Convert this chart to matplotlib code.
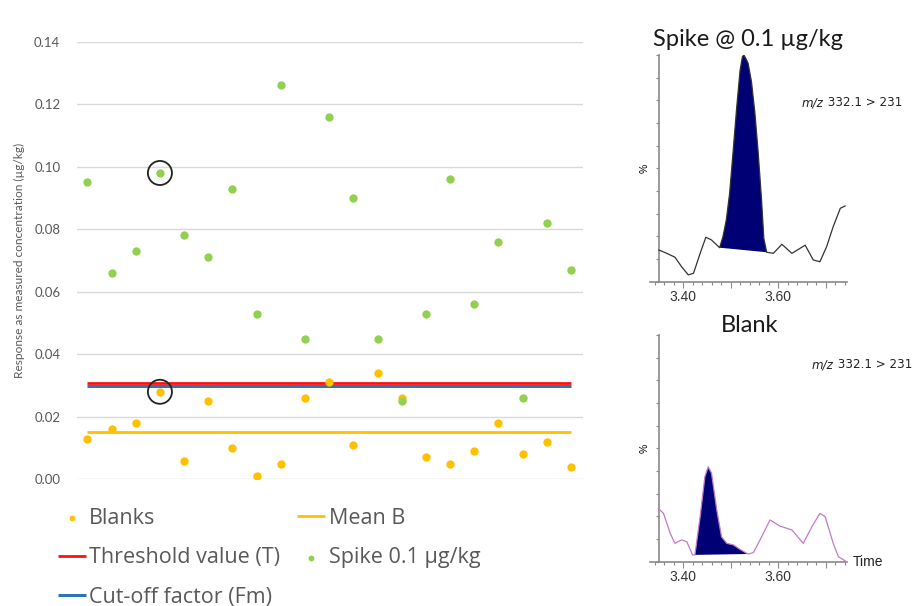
import numpy as np
import matplotlib
matplotlib.use("Agg")
import matplotlib.pyplot as plt
from matplotlib.ticker import MultipleLocator

plt.rcParams["font.family"] = ["Lato", "DejaVu Sans"]

# --- scatter data
sample_no = list(range(1, 22))
blanks = [0.013, 0.016, 0.018, 0.028, 0.006, 0.025, 0.010, 0.001, 0.005, 0.026, 0.031,
          0.011, 0.034, 0.026, 0.007, 0.005, 0.009, 0.018, 0.008, 0.012, 0.004]
spike = [0.095, 0.066, 0.073, 0.098, 0.078, 0.071, 0.093, 0.053, 0.126, 0.045, 0.116,
         0.090, 0.045, 0.025, 0.053, 0.096, 0.056, 0.076, 0.026, 0.082, 0.067]
mean_b = 0.015
threshold_t = 0.0307
cutoff_fm = 0.0300
circled = 3  # index of the circled sample

# --- chromatograms
spike_time = [3.349, 3.366, 3.383, 3.397, 3.411, 3.422, 3.436, 3.448, 3.460, 3.477,
              3.484, 3.491, 3.498, 3.505, 3.513, 3.520, 3.525, 3.528, 3.532, 3.537,
              3.544, 3.551, 3.558, 3.565, 3.570, 3.576,
              3.590, 3.608, 3.629, 3.657, 3.674, 3.688, 3.702, 3.716, 3.731, 3.741]
spike_pct = [14.0, 12.5, 10.8, 6.6, 3.0, 3.7, 12.5, 19.6, 18.4, 15.0,
             19.9, 27.2, 38.9, 56.5, 77.1, 93.2, 99.3, 100.0, 98.5, 96.3,
             88.2, 74.9, 57.3, 36.7, 19.1, 13.0,
             12.5, 16.5, 12.5, 16.1, 9.6, 8.8, 15.4, 24.3, 32.4, 33.4]
spike_peak = (3.477, 3.576)

blank_time = [3.348, 3.359, 3.373, 3.383, 3.397, 3.408, 3.420, 3.425, 3.436, 3.446,
              3.453, 3.460, 3.471, 3.481, 3.492, 3.506, 3.520, 3.534, 3.537, 3.548,
              3.562, 3.583, 3.604, 3.629, 3.653, 3.671, 3.688, 3.699, 3.716, 3.727, 3.741]
blank_pct = [23.5, 21.3, 12.5, 8.1, 9.6, 8.8, 3.0, 3.0, 19.9, 37.5,
             41.9, 39.0, 22.8, 11.0, 8.1, 7.4, 5.4, 3.7, 3.4, 4.0,
             9.6, 18.4, 15.7, 14.0, 8.1, 15.4, 21.3, 19.9, 8.1, 2.2, 0.4]
blank_peak = (3.425, 3.537)

ORANGE = "#FFC000"
GREEN = "#92D050"
RED = "#FF1010"
BLUE = "#2E75B6"
GREY_TXT = "#595959"
NAVY = "#000075"
ARIAL = ["Liberation Sans", "DejaVu Sans"]

W, H = 915, 606
fig = plt.figure(figsize=(W / 100, H / 100), dpi=100)


def px_axes(x0, y0, x1, y1):
    # axes from pixel box (top-left origin)
    return fig.add_axes([x0 / W, 1 - y1 / H, (x1 - x0) / W, (y1 - y0) / H])


# --- main scatter chart
ax = px_axes(77, 41.7, 583, 479.3)
ax.set_xlim(0.57, 21.5)
ax.set_ylim(0, 0.14)
ax.set_yticks(np.arange(0, 0.141, 0.02))
ax.yaxis.set_major_formatter(lambda v, _: f"{v:.2f}")
ax.set_xticks([])
ax.tick_params(axis="y", length=0, pad=12, labelsize=9.5, labelcolor=GREY_TXT)
ax.grid(axis="y", color="#d9d9d9", lw=1)
ax.set_axisbelow(True)
for s in ax.spines.values():
    s.set_visible(False)
ax.set_ylabel("Response as measured concentration (µg/kg)", fontsize=8.6, color=GREY_TXT)
ax.yaxis.set_label_coords(-0.103, 0.5)

h_mean = ax.hlines(mean_b, sample_no[0], sample_no[-1], color=ORANGE, lw=2, label="Mean B")
h_cut = ax.hlines(cutoff_fm, sample_no[0], sample_no[-1], color=BLUE, lw=2.2,
                  label="Cut-off factor (Fm)")
h_thr = ax.hlines(threshold_t, sample_no[0], sample_no[-1], color=RED, lw=2,
                  label="Threshold value (T)")
h_bl = ax.scatter(sample_no, blanks, s=36, color=ORANGE, lw=0, zorder=3, label="Blanks")
h_sp = ax.scatter(sample_no, spike, s=36, color=GREEN, lw=0, zorder=4,
                  label="Spike 0.1 µg/kg")
ax.scatter([sample_no[circled]] * 2, [spike[circled], blanks[circled]], s=300,
           facecolors="none", edgecolors="#222222", lw=1.3, zorder=5)

leg = fig.legend(
    handles=[h_bl, h_thr, h_cut, h_mean, h_sp],
    ncol=2, loc="upper left", bbox_to_anchor=(58 / W, 1 - 508 / H),
    frameon=False, prop={"family": "Open Sans", "size": 15.5}, labelcolor=GREY_TXT,
    markerscale=0.7, handlelength=1.3, handletextpad=0.15, columnspacing=0.8,
    labelspacing=0.85, borderpad=0, borderaxespad=0,
)


# --- chromatograms
def chromatogram(ax, t, pct, peak, color):
    t = np.asarray(t)
    pct = np.asarray(pct)
    ax.plot(t, pct, color=color, lw=0.9, zorder=3)
    sel = (t >= peak[0]) & (t <= peak[1])
    ax.fill(t[sel], pct[sel], color=NAVY, lw=0, zorder=2)
    ax.set_xlim(3.3305, 3.745)
    ax.set_ylim(0, 100)
    ax.spines[["top", "right"]].set_visible(False)
    ax.spines["left"].set_position(("data", 3.349))
    for s in ("left", "bottom"):
        ax.spines[s].set_color("#8a8a8a")
        ax.spines[s].set_linewidth(1.2)
    ax.yaxis.set_major_locator(MultipleLocator(10))
    ax.set_yticklabels([])
    ax.set_xticks([3.4, 3.5, 3.6, 3.7], labels=["3.40", "", "3.60", ""])
    ax.xaxis.set_minor_locator(MultipleLocator(0.02))
    ax.tick_params(axis="both", which="major", length=4, color="#8a8a8a", width=0.8,
                   labelsize=10, labelcolor="#333333", pad=2)
    ax.tick_params(axis="both", which="minor", length=2.5, color="#8a8a8a", width=0.8)
    ax.tick_params(axis="y", length=2.5)
    for lab in ax.get_xticklabels():
        lab.set_family(ARIAL)
    ax.set_ylabel("%", fontsize=7.5, labelpad=2, family=ARIAL)
    ax.patch.set_alpha(0)


def mz_label(x, y):
    t1 = fig.text(x / W, 1 - y / H, "m/z", style="italic", fontsize=8.6,
                  va="center", family=["DejaVu Sans"], color="#222222")
    fig.add_artist(plt.Annotation(" 332.1 > 231", xy=(1, 0.5), xycoords=t1,
                                  va="center", ha="left", fontsize=8.6,
                                  family=["DejaVu Sans"], color="#222222"))


ax_s = px_axes(650, 55, 847, 281.7)
chromatogram(ax_s, spike_time, spike_pct, spike_peak, "#333333")
fig.text(748 / W, 1 - 40 / H, "Spike @ 0.1 µg/kg", ha="center", va="center",
         fontsize=17, color="#1a1a1a")
mz_label(802, 103)

ax_b = px_axes(650, 335, 847, 561.7)
chromatogram(ax_b, blank_time, blank_pct, blank_peak, "#c27ac9")
fig.text(750 / W, 1 - 325 / H, "Blank", ha="center", va="center",
         fontsize=17, color="#1a1a1a")
mz_label(812, 365)
fig.text(853 / W, 1 - 562 / H, "Time", ha="left", va="center", fontsize=10,
         family=ARIAL, color="#222222")

fig.savefig("out.png", dpi=100)
